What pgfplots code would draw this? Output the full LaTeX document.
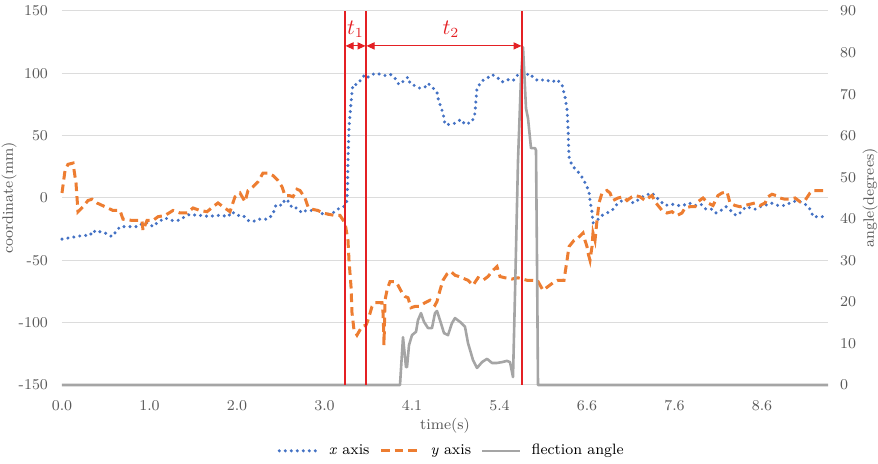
\documentclass[border=0pt]{standalone}
\usepackage{pgfplots}
\pgfplotsset{compat=1.18}
\usetikzlibrary{arrows.meta}
\definecolor{xblue}{RGB}{68,114,196}
\definecolor{yorange}{RGB}{237,125,49}
\definecolor{angray}{RGB}{165,165,165}
\definecolor{tlred}{RGB}{228,32,36}
\definecolor{txtgray}{RGB}{89,89,89}
\definecolor{gridgray}{RGB}{220,220,220}

\pgfplotsset{
  base/.style={
    width=383pt, height=187pt, scale only axis,
    at={(0,0)}, anchor=south west,
    xmin=0, xmax=766,
    tick style={draw=none},
    ticklabel style={font=\fontsize{7.5}{9}\selectfont, text=txtgray},
    label style={font=\fontsize{7.5}{9}\selectfont, text=txtgray},
    /pgf/number format/assume math mode=true,
    clip=false,
  },
  xser/.style={xblue, line width=1.7pt, line cap=round, dash pattern=on 0pt off 3pt},
  yser/.style={yorange, line width=1.5pt, dash pattern=on 4.3pt off 2.5pt},
  aser/.style={angray, line width=1.3pt, line join=round},
}

\begin{document}
\begin{tikzpicture}
\begin{axis}[base,
  ymin=-150, ymax=150, ytick={-150,-100,-50,0,50,100,150},
  ymajorgrids, grid style={gridgray, line width=0.5pt},
  axis y line*=left, axis x line*=bottom,
  axis line style={draw=none},
  xtick={0,87.5,175,262.5,350,437.5,525,612.5,700},
  xticklabels={0.0,1.0,2.0,3.0,4.1,5.4,6.6,7.6,8.6},
  xticklabel style={yshift=-4pt},
  yticklabel style={xshift=-3.5pt},
  xlabel={time(s)},
  xlabel style={at={(axis description cs:0.5,-0.11)}, anchor=center},
  ylabel={coordinate(mm)},
  ylabel style={at={(axis description cs:-0.069,0.5)}, anchor=center, rotate=0},
  legend columns=3,
  legend style={draw=none, fill=none, at={(axis description cs:0.51,-0.176)}, anchor=center,
    font=\fontsize{7.5}{9}\selectfont, column sep=3pt},
  legend image code/.code={\draw[#1] (0pt,0pt) -- (19pt,0pt);},
]
\addplot[xser] coordinates {
(0,-33) (7,-32) (14,-31) (21,-30) (28,-30) (31,-26) (35,-28) (38,-27) (43,-28) (50,-31)
(54,-27) (58,-23) (63,-23) (70,-23) (76,-23) (81,-20) (86,-20) (91,-23) (95,-20) (103,-16)
(110,-18) (116,-18) (123,-15) (128,-13) (135,-14) (141,-14) (147,-15) (153,-14) (160,-14)
(166,-15) (170,-11) (175,-14) (181,-14) (186,-18) (191,-19) (196,-17) (201,-17) (206,-17)
(211,-13) (213,-7) (215,-5) (220,-6) (223,-1) (227,-3) (230,-8) (235,-8) (240,-12) (244,-10)
(251,-10) (256,-10) (261,-13) (265,-13) (271,-12) (275,-9) (280,-8) (283,-6) (285,-2)
(285.5,9) (286,30) (287,57) (289,76) (290,85) (291,91) (295,91) (300,96) (303,99) (306,97)
(310,99) (314,100) (320,99) (324,98) (329,99) (333,96) (337,91) (342,94) (346,97) (348,92)
(353,90) (358,88) (363,89) (366,92) (370,89) (375,85) (376,80) (378,75) (381,68) (383,59)
(388,59) (393,60) (399,63) (403,59) (410,61) (413,68) (414,79) (415,88) (420,94) (425,96)
(430,99) (435,97) (440,93) (445,95) (451,94) (456,99) (462,97) (467,100) (471,97) (476,94)
(483,95) (490,93) (495,95) (500,91) (503,81) (505,71) (506,57) (506.5,44) (507,33) (510,26)
(515,22) (519,18) (522,14) (525,9) (527,5) (528,-2) (530,-11) (531,-20) (535,-18) (540,-14)
(545,-12) (550,-10) (555,-5) (560,-2) (565,-2) (572,-4) (577,-1) (583,2) (590,4) (595,0)
(603,-6) (610,-5) (616,-6) (621,-6) (627,-4) (633,-6) (639,-5) (644,-9) (650,-9) (654,-12)
(659,-10) (664,-7) (670,-11) (674,-14) (678,-12) (684,-7) (693,-9) (698,-7) (703,-6) (709,-4)
(716,-6) (723,-6) (728,-4) (735,-2) (741,-4) (745,-6) (749,-10) (751,-15) (756,-15) (764,-15)
};
\addlegendentry{\textit{x} axis}
\addplot[yser] coordinates {
(0,4) (3,22) (6,27) (11,28) (14,12) (16,-11) (21,-7) (26,-2) (30,-1) (35,-4) (43,-7) (51,-10)
(58,-10) (61,-17) (70,-18) (80,-18) (81,-26) (85,-18) (91,-18) (96,-15) (103,-14) (111,-10)
(118,-12) (125,-12) (131,-8) (138,-10) (145,-11) (151,-7) (156,-4) (161,-7) (168,-11) (173,1)
(178,4) (183,-3) (186,6) (191,9) (196,13) (201,20) (206,20) (211,18) (216,14) (220,9) (223,2)
(227,2) (231,1) (235,7) (238,6) (243,0) (246,-7) (250,-9) (256,-10) (261,-12) (266,-13)
(273,-14) (278,-14) (283,-20) (286,-34) (287,-50) (289,-71) (290,-92) (292,-106) (295,-110)
(300,-103) (304,-102) (306,-98) (310,-87) (313,-84) (320,-84) (321,-92) (321.5,-103) (322,-118)
(323,-82) (325,-74) (328,-67) (333,-67) (336,-70) (340,-76) (343,-79) (346,-80) (349,-88)
(353,-87) (357,-87) (363,-84) (368,-82) (373,-86) (375,-83) (378,-74) (381,-66) (385,-61)
(389,-59) (393,-62) (397,-63) (400,-64) (406,-66) (411,-70) (416,-64) (421,-66) (426,-63)
(431,-58) (435,-55) (438,-63) (443,-64) (450,-65) (456,-64) (465,-66) (471,-66) (476,-67)
(481,-74) (486,-71) (491,-68) (496,-66) (502,-66) (505,-50) (507,-39) (512,-34) (516,-32)
(521,-28) (523,-34) (525,-39) (526,-44) (528,-50) (530,-39) (531,-28) (533,-34) (535,-18)
(537,-4) (540,4) (545,6) (548,4) (551,-2) (556,0) (561,1) (565,-2) (570,1) (573,2) (578,1)
(583,-2) (588,1) (590,2) (593,-3) (600,-10) (605,-12) (610,-11) (615,-14) (620,-12) (623,-8)
(628,-7) (633,-7) (636,-3) (641,0) (646,-4) (651,-6) (656,2) (660,4) (665,5) (668,-4) (673,-6)
(678,-7) (683,-6) (688,-5) (693,-4) (698,-6) (703,-4) (706,1) (710,3) (714,2) (718,0) (723,-1)
(728,-1) (733,0) (738,-3) (743,-2) (748,4) (751,6) (758,6) (766,6)
};
\addlegendentry{\textit{y} axis}
\addlegendimage{aser}
\addlegendentry{flection angle}
\end{axis}

\begin{axis}[base,
  ymin=0, ymax=90, ytick={0,10,...,90},
  axis y line*=right, axis x line=none,
  axis line style={draw=none},
  yticklabel style={xshift=2.5pt},
  ylabel={angle(degrees)},
  ylabel style={at={(axis description cs:1.055,0.5)}, anchor=center, rotate=0},
]
\addplot[aser] coordinates {
(0,0) (338,0) (340,7.7) (341,11.5) (344,4.3) (345,4.3) (347,9.6) (350,12) (354,12.8) (356,15.6)
(359,17.3) (362,15.2) (366,13.7) (370,13.7) (373,17.3) (375,17.8) (378,15.6) (382,12.5)
(386,12) (390,14.9) (393,16.1) (398,15.2) (403,14) (406,10.1) (411,6) (415,4.1) (420,5.5)
(425,6.3) (430,5.3) (435,5.3) (440,5.5) (445,5.8) (448,5.5) (451,1.9) (453,22) (456,54)
(459,74) (461,81.3) (464,66.6) (466,64.2) (469,57) (473,57) (474,56.5) (475,30) (476,0) (766,0)
};
% time markers
\addplot[tlred, line width=1pt] coordinates {(283,0) (283,90)};
\addplot[tlred, line width=1pt] coordinates {(304,0) (304,90)};
\addplot[tlred, line width=1pt] coordinates {(460,0) (460,90)};
\addplot[tlred, line width=0.5pt, {Triangle[length=4pt,width=3.6pt]}-{Triangle[length=4pt,width=3.6pt]}]
  coordinates {(283.5,81.6) (303.5,81.6)};
\addplot[tlred, line width=0.5pt, {Triangle[length=4pt,width=3.6pt]}-{Triangle[length=4pt,width=3.6pt]}]
  coordinates {(304.5,81.6) (459.5,81.6)};
\node[text=tlred, font=\fontsize{10.5}{12}\selectfont] at (axis cs:293.5,85.6) {$t_1$};
\node[text=tlred, font=\fontsize{10.5}{12}\selectfont] at (axis cs:389,85.6) {$t_2$};
\end{axis}
\pgfresetboundingbox
\useasboundingbox (-31pt,-39.5pt) rectangle (408pt,192.5pt);
\end{tikzpicture}
\end{document}
